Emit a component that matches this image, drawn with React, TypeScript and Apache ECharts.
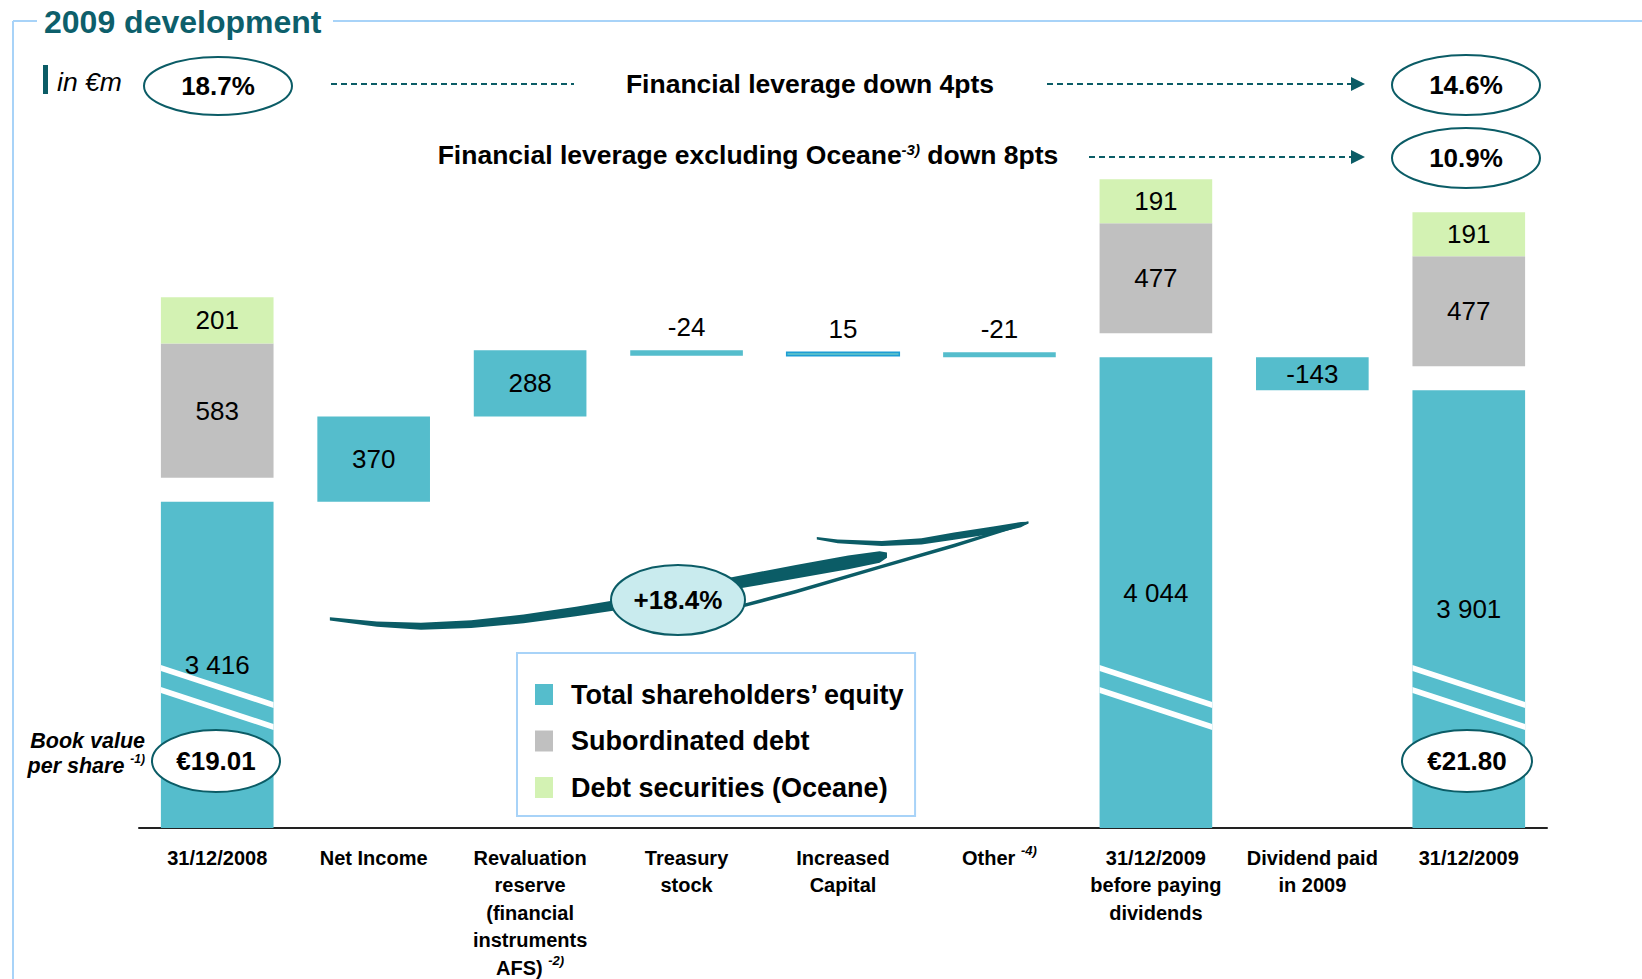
import React, { useEffect, useRef } from 'react';
import * as echarts from 'echarts';

// ---------- data ----------
const categories = [
  '31/12/2008',
  'Net Income',
  'Revaluation\nreserve\n(financial\ninstruments\nAFS) ',
  'Treasury\nstock',
  'Increased\nCapital',
  'Other ',
  '31/12/2009\nbefore paying\ndividends',
  'Dividend paid\nin 2009',
  '31/12/2009',
];
const footnotes = ['', '', '-2)', '', '', '-4)', '', '', ''];
const equity = [3416, 370, 288, -24, 15, -21, 4044, -143, 3901];
const isTotal = [1, 0, 0, 0, 0, 0, 1, 0, 1];
const subordinatedDebt = [583, 0, 0, 0, 0, 0, 477, 0, 477];
const oceane = [201, 0, 0, 0, 0, 0, 191, 0, 191];
const seriesNames = ['Total shareholders’ equity', 'Subordinated debt', 'Debt securities (Oceane)'];
const leverageStart = '18.7%';
const leverageEnd = '14.6%';
const leverageExOceaneEnd = '10.9%';
const equityGrowth = '+18.4%';
const bookValue2008 = '€19.01';
const bookValue2009 = '€21.80';

// ---------- style ----------
const FONT = 'Liberation Sans, Arial, Helvetica, sans-serif';
const TEAL = '#55BDCC';
const GRAY = '#C0C0C0';
const GREEN = '#D3F2B3';
const DARK = '#0B5C66';
const FRAME = '#A8D3F8';
const AXIS_MIN = 2000; // broken axis: baseline value
const AXIS_MAX = 5000;
const BAR_RATIO = 0.72;
const GAP = 24; // px gap between equity and debt blocks
const K = 1642 / 1568;

const fmt = (v: number) => {
  const a = Math.abs(v).toString().replace(/\B(?=(\d{3})+(?!\d))/g, ' ');
  return (v < 0 ? '-' : '') + a;
};

const taper = (pts: number[][]) => {
  const up = pts.map(([x, c, t]) => [x * K, (c - t / 2) * K]);
  const lo = pts.map(([x, c, t]) => [x * K, (c + t / 2) * K]).reverse();
  return up.concat(lo);
};

export default function App() {
  const ref = useRef<HTMLDivElement>(null);
  useEffect(() => {
    if (!ref.current) return;
    const chart = echarts.init(ref.current, undefined, { renderer: 'svg' });

    let running = 0;
    const equityData = equity.map((v, i) => {
      if (isTotal[i]) {
        running = v;
        return [i, AXIS_MIN, v, v, 1];
      }
      const lo = Math.min(running, running + v);
      const hi = Math.max(running, running + v);
      running += v;
      return [i, lo, hi, v, 0];
    });
    const debtData = equity
      .map((v, i) => [i, v, subordinatedDebt[i], oceane[i]])
      .filter((d, i) => isTotal[i]);

    const labelStyle = (text: string, x: number, y: number) => ({
      type: 'text',
      x,
      y,
      z2: 10,
      style: { text, fill: '#000', fontSize: 26, fontFamily: FONT, align: 'center', verticalAlign: 'middle' },
    });

    const renderEquity = (params: any, api: any) => {
      const i = api.value(0);
      const lo = api.value(1);
      const hi = api.value(2);
      const v = api.value(3);
      const tot = api.value(4);
      const pLo = api.coord([i, lo]);
      const pHi = api.coord([i, hi]);
      const bw = api.size([1, 0])[0] * BAR_RATIO;
      const x0 = pLo[0] - bw / 2;
      const h = pLo[1] - pHi[1];
      const outlined = categories[i] === 'Increased\nCapital';
      const children: any[] = [
        {
          type: 'rect',
          shape: { x: x0, y: pHi[1], width: bw, height: h },
          style: outlined
            ? { fill: TEAL, stroke: '#1E9ED4', lineWidth: 1.5 }
            : { fill: TEAL },
        },
      ];
      if (tot) {
        const yb = pLo[1];
        [0, 22].forEach((off) => {
          const yl = yb - 160 + off;
          const yr = yl + 37;
          children.push({
            type: 'polygon',
            shape: { points: [[x0, yl - 3], [x0 + bw, yr - 3], [x0 + bw, yr + 3], [x0, yl + 3]] },
            style: { fill: '#fff' },
          });
        });
      }
      const ly = h < 30 ? pHi[1] - 23 : (pHi[1] + pLo[1]) / 2;
      children.push(labelStyle(fmt(v), pLo[0], ly));
      return { type: 'group', children };
    };

    const renderDebt = (which: number) => (params: any, api: any) => {
      const i = api.value(0);
      const eq = api.value(1);
      const sub = api.value(2);
      const oce = api.value(3);
      const p = api.coord([i, eq]);
      const bw = api.size([1, 0])[0] * BAR_RATIO;
      const x0 = p[0] - bw / 2;
      const hSub = api.size([0, sub])[1];
      const hOce = api.size([0, oce])[1];
      const yBottom = p[1] - GAP;
      let top: number, h: number, val: number, fill: string;
      if (which === 1) {
        top = yBottom - hSub; h = hSub; val = sub; fill = GRAY;
      } else {
        top = yBottom - hSub - hOce; h = hOce; val = oce; fill = GREEN;
      }
      return {
        type: 'group',
        children: [
          { type: 'rect', shape: { x: x0, y: top, width: bw, height: h }, style: { fill } },
          labelStyle(fmt(val), p[0], top + h / 2),
        ],
      };
    };

    const supRich = {
      b: { fontFamily: FONT, fontSize: 26.5, fontWeight: 'bold', color: '#000' },
      s: { fontFamily: FONT, fontSize: 15, fontWeight: 'bold', fontStyle: 'italic', color: '#000', verticalAlign: 'top', padding: [0, 0, 10, 0] },
    };

    const ellipse = (cx: number, cy: number, rx: number, ry: number, fill: string, text: string) => [
      {
        type: 'ellipse',
        z: 101,
        shape: { cx, cy, rx, ry },
        style: { fill, stroke: DARK, lineWidth: 2 },
      },
      {
        type: 'text',
        z: 102,
        x: cx,
        y: cy,
        style: { text, fontFamily: FONT, fontSize: 26, fontWeight: 'bold', fill: '#000', align: 'center', verticalAlign: 'middle' },
      },
    ];

    const dash = (x1: number, x2: number, y: number, arrow: boolean) => {
      const els: any[] = [
        {
          type: 'line',
          z: 100,
          shape: { x1, y1: y, x2: arrow ? x2 - 12 : x2, y2: y },
          style: { stroke: DARK, lineWidth: 2, lineDash: [6, 4] },
        },
      ];
      if (arrow) {
        els.push({
          type: 'polygon',
          z: 100,
          shape: { points: [[x2, y], [x2 - 14, y - 7], [x2 - 14, y + 7]] },
          style: { fill: DARK },
        });
      }
      return els;
    };

    const mainStroke = taper([
      [315, 591, 3], [360, 596, 5], [402, 598, 6.5], [450, 596, 7.5], [500, 591, 8.5], [550, 584, 9],
      [600, 576, 10], [650, 567, 11], [700, 557, 12], [760, 546, 13], [810, 537, 13], [840, 532, 11], [847, 530, 5],
    ]);
    const upperStroke = taper([
      [780, 514, 2.5], [800, 517, 3.5], [842, 519, 5], [880, 517, 6], [911, 512, 7], [950, 506, 7], [975, 501, 5], [982, 499, 1.5],
    ]);
    const lowerStroke = taper([
      [711, 578, 3.5], [760, 565, 3.5], [842, 541, 3.5], [911, 521, 3.5], [982, 499, 2.5],
    ]);

    const graphic: any[] = [
      // frame
      { type: 'line', z: 100, shape: { x1: 13, y1: 21, x2: 37, y2: 21 }, style: { stroke: FRAME, lineWidth: 2 } },
      { type: 'line', z: 100, shape: { x1: 333, y1: 21, x2: 1642, y2: 21 }, style: { stroke: FRAME, lineWidth: 2 } },
      { type: 'line', z: 100, shape: { x1: 13, y1: 21, x2: 13, y2: 979 }, style: { stroke: FRAME, lineWidth: 2 } },
      {
        type: 'text', z: 100, x: 44, y: 22,
        style: { text: '2009 development', fontFamily: FONT, fontSize: 32, fontWeight: 'bold', fill: '#0D5F6B', align: 'left', verticalAlign: 'middle' },
      },
      // in €m
      { type: 'rect', z: 100, shape: { x: 43, y: 65, width: 5, height: 29 }, style: { fill: DARK } },
      {
        type: 'text', z: 100, x: 57, y: 82,
        style: { text: 'in €m', fontFamily: FONT, fontSize: 26.5, fontStyle: 'italic', fill: '#000', align: 'left', verticalAlign: 'middle' },
      },
      ...ellipse(218, 86, 74, 29, '#fff', leverageStart),
      ...dash(331, 574, 84, false),
      {
        type: 'text', z: 100, x: 810, y: 84,
        style: { text: 'Financial leverage down 4pts', fontFamily: FONT, fontSize: 26.5, fontWeight: 'bold', fill: '#000', align: 'center', verticalAlign: 'middle' },
      },
      ...dash(1047, 1365, 84, true),
      ...ellipse(1466, 85, 74, 30, '#fff', leverageEnd),
      {
        type: 'text', z: 100, x: 748, y: 155,
        style: {
          text: '{b|Financial leverage excluding Oceane}{s|-3)}{b| down 8pts}',
          rich: supRich, align: 'center', verticalAlign: 'middle',
        },
      },
      ...dash(1089, 1365, 157, true),
      ...ellipse(1466, 158, 74, 30, '#fff', leverageExOceaneEnd),
      // swoosh
      { type: 'polygon', z: 100, shape: { points: mainStroke }, style: { fill: DARK } },
      { type: 'polygon', z: 100, shape: { points: upperStroke }, style: { fill: DARK } },
      { type: 'polygon', z: 100, shape: { points: lowerStroke }, style: { fill: DARK } },
      ...ellipse(678, 600, 67, 35, '#C9EBEE', equityGrowth),
      // book value
      {
        type: 'text', z: 100, x: 145, y: 753,
        style: {
          text: '{b|Book value}\n{b|per share }{s|-1)}',
          rich: {
            b: { fontFamily: FONT, fontSize: 21.5, fontWeight: 'bold', fontStyle: 'italic', color: '#000', lineHeight: 25, align: 'right' },
            s: { fontFamily: FONT, fontSize: 12, fontWeight: 'bold', fontStyle: 'italic', color: '#000', lineHeight: 25, verticalAlign: 'top', padding: [0, 0, 8, 0], align: 'right' },
          },
          align: 'right', verticalAlign: 'middle',
        },
      },
      ...ellipse(216, 761, 64, 31, '#fff', bookValue2008),
      ...ellipse(1467, 761, 65, 31, '#fff', bookValue2009),
    ];

    chart.setOption({
      animation: false,
      textStyle: { fontFamily: FONT },
      grid: { left: 139, right: 95, top: 137, bottom: 151, outerBoundsMode: 'none', containLabel: false },
      xAxis: {
        type: 'category',
        data: categories,
        axisTick: { show: false },
        axisLine: { lineStyle: { color: '#222', width: 2 } },
        axisLabel: {
          interval: 0,
          margin: 16,
          formatter: (value: string, idx: number) =>
            `{b|${value}}` + (footnotes[idx] ? `{s|${footnotes[idx]}}` : ''),
          rich: {
            b: { fontFamily: FONT, fontSize: 20, fontWeight: 'bold', color: '#000', lineHeight: 27.5, align: 'center' },
            s: { fontFamily: FONT, fontSize: 13, fontWeight: 'bold', fontStyle: 'italic', color: '#000', lineHeight: 27.5, verticalAlign: 'top', padding: [0, 0, 8, 0], align: 'center' },
          },
        },
      },
      yAxis: {
        type: 'value',
        min: AXIS_MIN,
        max: AXIS_MAX,
        show: false,
        splitLine: { show: false },
      },
      legend: {
        orient: 'vertical',
        left: 517,
        top: 653,
        padding: [28, 10, 15, 18],
        itemGap: 19.5,
        itemWidth: 18,
        itemHeight: 21,
        icon: 'rect',
        borderColor: FRAME,
        borderWidth: 2,
        selectedMode: false,
        textStyle: { fontFamily: FONT, fontSize: 27, fontWeight: 'bold', color: '#000', lineHeight: 21, padding: [0, 0, 0, 13] },
        data: seriesNames,
      },
      series: [
        {
          type: 'custom',
          name: seriesNames[0],
          itemStyle: { color: TEAL },
          clip: false,
          renderItem: renderEquity,
          encode: { x: 0, y: [1, 2] },
          data: equityData,
          z: 2,
        },
        {
          type: 'custom',
          name: seriesNames[1],
          itemStyle: { color: GRAY },
          clip: false,
          renderItem: renderDebt(1),
          encode: { x: 0, y: 1 },
          data: debtData,
          z: 2,
        },
        {
          type: 'custom',
          name: seriesNames[2],
          itemStyle: { color: GREEN },
          clip: false,
          renderItem: renderDebt(2),
          encode: { x: 0, y: 1 },
          data: debtData,
          z: 2,
        },
      ],
      graphic,
    });

    return () => chart.dispose();
  }, []);

  return (
    <div
      ref={ref}
      style={{ position: 'absolute', left: 0, top: 0, width: 1642, height: 979, background: '#fff' }}
    />
  );
}
